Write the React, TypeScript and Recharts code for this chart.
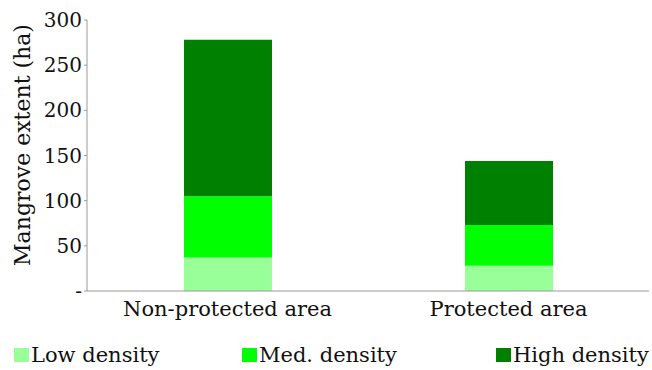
import * as React from 'react';
import { BarChart, Bar, XAxis, YAxis, Legend } from 'recharts';

const areas = ['Non-protected area', 'Protected area'];
const lowDensity = [37, 28];
const medDensity = [68, 45];
const highDensity = [173, 71];
const yTicks = [0, 50, 100, 150, 200, 250, 300];

const series = [
    { key: 'low', name: 'Low density', color: '#99FF99' },
    { key: 'med', name: 'Med. density', color: '#00FF00' },
    { key: 'high', name: 'High density', color: '#008000' },
];

const data = areas.map((area, i) => ({
    area,
    low: lowDensity[i],
    med: medDensity[i],
    high: highDensity[i],
}));

const FONT = '"DejaVu Serif", serif';
const legendLeft = [14, 242, 496];

const LegendContent: React.FC<any> = () => (
    <div style={{ position: 'relative', width: 652, height: 30, fontFamily: FONT, fontSize: 21, color: '#111' }}>
        {series.map((s, i) => (
            <div key={s.key} style={{ position: 'absolute', left: legendLeft[i], top: 0, display: 'flex', alignItems: 'center' }}>
                <span style={{ display: 'inline-block', width: 15, height: 14, background: s.color, marginRight: 2 }} />
                <span>{s.name}</span>
            </div>
        ))}
    </div>
);

const YLabel: React.FC<any> = () => (
    <text transform="translate(22,145) rotate(-90)" textAnchor="middle" dominantBaseline="central"
        fontFamily={FONT} fontSize={22} fill="#111">
        Mangrove extent (ha)
    </text>
);

const App: React.FC = () => {
    return (
        <div style={{ position: 'absolute', left: 0, top: 0, background: '#fff' }}>
            <BarChart width={652} height={370} data={data} margin={{ top: 20, right: 3, left: 0, bottom: 0 }}>
                <XAxis dataKey="area" stroke="#999" tickLine={false} tick={{ fill: '#111', fontFamily: FONT, fontSize: 21 }}
                    height={49} tickMargin={4} />
                <YAxis domain={[0, 300]} ticks={yTicks} width={87} stroke="#999" tickSize={3}
                    tickFormatter={(v: number) => (v === 0 ? '-' : String(v))}
                    tick={{ fill: '#111', fontFamily: FONT, fontSize: 20 }} label={<YLabel />} />
                <Legend verticalAlign="bottom" wrapperStyle={{ left: 0, bottom: -3, width: 652 }} content={<LegendContent />} />
                {series.map((s) => (
                    <Bar key={s.key} dataKey={s.key} name={s.name} stackId="a" fill={s.color} barSize={88} isAnimationActive={false} />
                ))}
            </BarChart>
        </div>
    );
};

export default App;
